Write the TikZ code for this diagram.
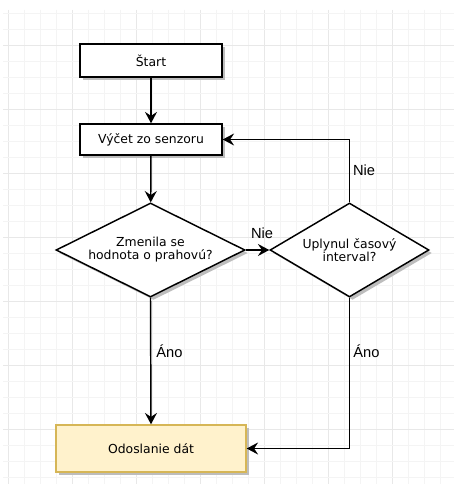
\documentclass[tikz,border=0pt]{standalone}
\usepackage{fontspec}
\setmainfont{DejaVu Sans}
\newfontfamily\lblfont{Liberation Sans}
\usetikzlibrary{shapes.geometric,arrows.meta,shadows}
\definecolor{gridminor}{HTML}{F4F4F4}
\definecolor{gridmajor}{HTML}{E8E8E8}
\definecolor{yfill}{HTML}{FFF2CC}
\definecolor{ydraw}{HTML}{D6B656}
\definecolor{shadowgray}{HTML}{BDBDBD}
\tikzset{
  shad/.style={drop shadow={shadow xshift=2.25pt, shadow yshift=-2.25pt, fill=shadowgray, opacity=1}},
  procbox/.style={rectangle, draw=black, line width=1.1pt, fill=white, shad, inner sep=0pt, font=\fontsize{9.3}{10}\selectfont},
  decbox/.style={diamond, draw=black, line width=1.1pt, fill=white, shad, inner sep=0pt, aspect=2, align=center, font=\fontsize{9.3}{9.8}\selectfont},
  sendbox/.style={rectangle, draw=ydraw, line width=1.1pt, fill=yfill, shad, inner sep=0pt, font=\fontsize{9.3}{10}\selectfont},
  arr/.style={draw=black, line width=1.1pt, -{Stealth[length=8.5pt, width=9pt, inset=3pt]}},
  lbl/.style={font=\lblfont\fontsize{11}{13}\selectfont, inner sep=0pt}
}
\begin{document}
\begin{tikzpicture}[x=0.75pt, y=-0.75pt]
\useasboundingbox (0,0) rectangle (454,484);
\fill[white] (0,0) rectangle (454,484);
% grid
\foreach \k in {0,...,28} {
  \pgfmathsetmacro{\gx}{8+16*\k}
  \pgfmathparse{mod(\k,4)==0 ? 1 : 0}
  \ifnum\pgfmathresult=1 \def\gc{gridmajor}\else\def\gc{gridminor}\fi
  \draw[\gc, line width=0.6pt] (\gx,10) -- (\gx,484);
}
\foreach \k in {0,...,29} {
  \pgfmathsetmacro{\gy}{13+16*\k}
  \pgfmathparse{mod(\k+2,4)==0 ? 1 : 0}
  \ifnum\pgfmathresult=1 \def\gc{gridmajor}\else\def\gc{gridminor}\fi
  \draw[\gc, line width=0.6pt] (3,\gy) -- (454,\gy);
}
% nodes
\node[procbox, minimum width=106.5pt, minimum height=24.75pt] (start) at (151,60.5) {Štart};
\node[procbox, minimum width=106.5pt, minimum height=23.25pt] (vycet) at (151,139.5) {Výčet zo senzoru};
\node[decbox, minimum width=141.75pt, minimum height=70.5pt] (d1) at (150.5,250) {Zmenila se\\hodnota o prahovú?};
\node[decbox, minimum width=119.25pt, minimum height=70.5pt] (d2) at (349.5,250) {Uplynul časový\\interval?};
\node[sendbox, minimum width=142.5pt, minimum height=35.25pt] (odo) at (151,448.5) {Odoslanie dát};
% connectors
\draw[arr] (start) -- (vycet);
\draw[arr] (vycet) -- (d1);
\draw[arr] (d1.east) -- (d2.west);
\draw[arr] (d2.north) |- (vycet.east);
\draw[arr] (d1.south) -- (odo.north);
\draw[arr] (d2.south) |- (odo.east);
% labels
\node[lbl] (nie1) at (262,233) {Nie};
\node[lbl] (nie2) at (364,170) {Nie};
\node[lbl] (ano1) at (169.5,351) {Áno};
\node[lbl] (ano2) at (366.5,351) {Áno};
\end{tikzpicture}
\end{document}
